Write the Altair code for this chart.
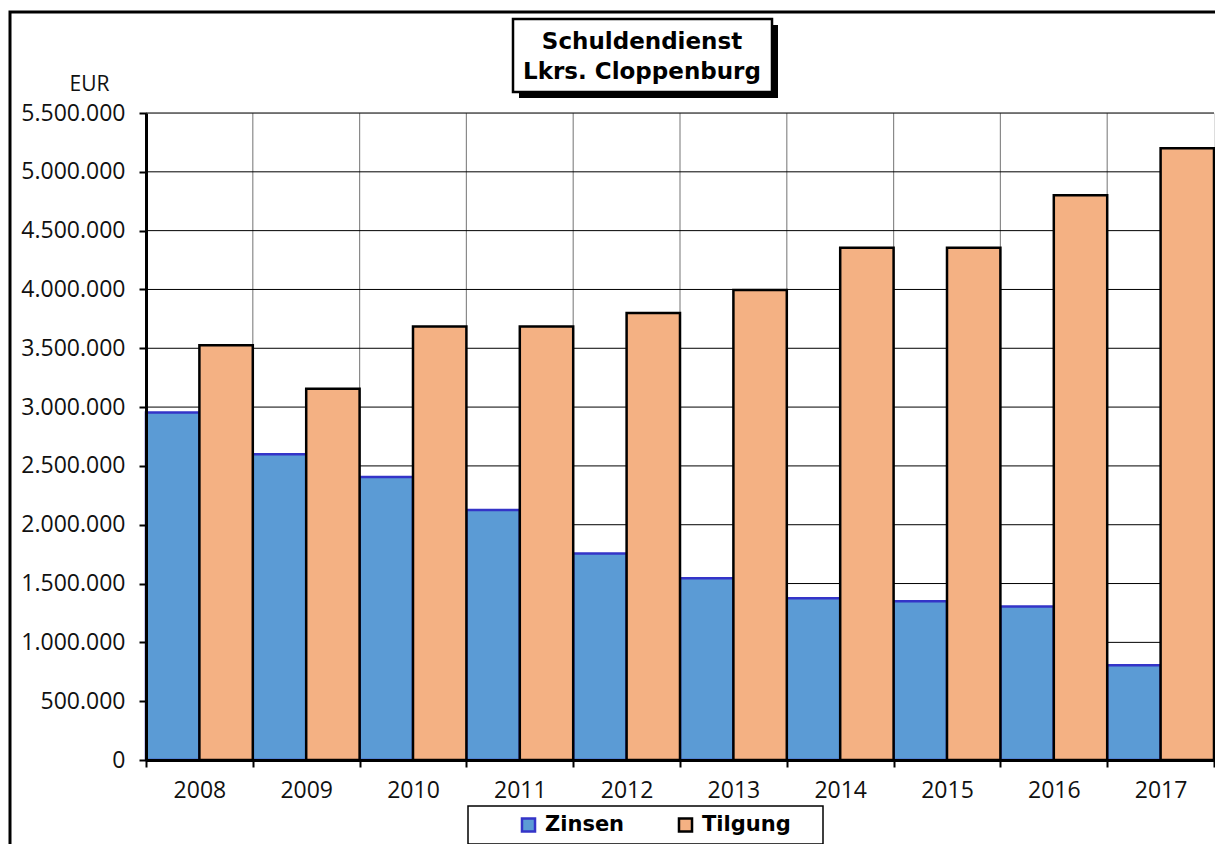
import altair as alt
import pandas as pd

years = ["2008", "2009", "2010", "2011", "2012", "2013", "2014", "2015", "2016", "2017"]
zinsen = [2955000, 2600000, 2405000, 2125000, 1755000, 1545000, 1375000, 1350000, 1305000, 805000]
tilgung = [3525000, 3155000, 3685000, 3685000, 3800000, 3995000, 4355000, 4355000, 4800000, 5200000]
series_names = ["Zinsen", "Tilgung"]
y_ticks = [0, 500000, 1000000, 1500000, 2000000, 2500000, 3000000, 3500000, 4000000, 4500000, 5000000, 5500000]
title_lines = ["Schuldendienst", "Lkrs. Cloppenburg"]

rows = []
for s, vals in zip(series_names, [zinsen, tilgung]):
    for yr, v in zip(years, vals):
        rows.append({"series": s, "year": yr, "value": v})
df = pd.DataFrame(rows)

FONT = "Open Sans"
BOLD_FONT = "DejaVu Sans"

x_scale = alt.Scale(domain=years, paddingInner=0, paddingOuter=0)
y_scale = alt.Scale(domain=[0, 5500000], nice=False)

x_axis = alt.Axis(title=None, labelAngle=0, labelFont=FONT, labelFontSize=23, labelColor="#111",
                  labelPadding=12, tickBand="extent", tickSize=7, tickWidth=2, tickColor="black",
                  domainColor="black", domainWidth=3, grid=False, zindex=1)
y_axis = alt.Axis(title="EUR", titleAngle=0, titleX=-57, titleY=-29, titleAlign="center",
                  titleBaseline="middle", titleFont=FONT, titleFontSize=21, titleFontWeight="normal",
                  titleColor="#111",
                  values=y_ticks, labelExpr="replace(format(datum.value, ',d'), regexp(',', 'g'), '.')",
                  labelFont=FONT, labelFontSize=23, labelColor="#111", labelPadding=14,
                  tickSize=7, tickWidth=2, tickColor="black", domainColor="black", domainWidth=3,
                  grid=False, zindex=1)

vgrid = alt.Chart(pd.DataFrame({"year": years})).mark_rule(color="#8a8a8a", strokeWidth=1.2).encode(
    x=alt.X("year:N", bandPosition=0, scale=x_scale, axis=x_axis)
)
hgrid = alt.Chart(pd.DataFrame({"v": y_ticks})).mark_rule(color="black", strokeWidth=1).encode(
    y=alt.Y("v:Q", scale=y_scale, axis=y_axis)
)

leg = alt.Legend(title=None, orient="none", legendX=372, legendY=701, direction="horizontal",
                 symbolType="square", symbolSize=170, symbolStrokeWidth=2.5,
                 labelFont=BOLD_FONT, labelFontSize=21, labelFontWeight="bold", labelColor="black",
                 labelOffset=6, columnPadding=48, padding=0)

bars = alt.Chart(df).mark_bar(strokeWidth=2.5, strokeOpacity=1, fillOpacity=1).encode(
    x=alt.X("year:N", scale=x_scale, axis=x_axis),
    xOffset=alt.XOffset("series:N", scale=alt.Scale(domain=series_names, paddingInner=0, paddingOuter=0)),
    y=alt.Y("value:Q", scale=y_scale, axis=y_axis, stack=None),
    fill=alt.Fill("series:N", scale=alt.Scale(domain=series_names, range=["#5B9BD5", "#F4B183"]), legend=leg),
    stroke=alt.Stroke("series:N", scale=alt.Scale(domain=series_names, range=["#3434C8", "#000000"]), legend=leg),
)

one = pd.DataFrame({"k": [1]})
frame = alt.Chart(one).mark_rect(filled=False, stroke="black", strokeWidth=3).encode(
    x=alt.value(-136), x2=alt.value(2000), y=alt.value(-101), y2=alt.value(2000)
)
title_shadow = alt.Chart(one).mark_rect(color="black").encode(
    x=alt.value(373), x2=alt.value(632), y=alt.value(-88), y2=alt.value(-15)
)
title_box = alt.Chart(one).mark_rect(fill="white", stroke="black", strokeWidth=2.5).encode(
    x=alt.value(367), x2=alt.value(626), y=alt.value(-94), y2=alt.value(-21)
)
title_text = alt.Chart(one).mark_text(font=BOLD_FONT, fontSize=23, fontWeight="bold", lineHeight=30,
                                      align="center", baseline="middle", color="black").encode(
    x=alt.value(496), y=alt.value(-71), text=alt.value(title_lines)
)
legend_box = alt.Chart(one).mark_rect(fill="white", stroke="black", strokeWidth=1.5).encode(
    x=alt.value(322), x2=alt.value(677), y=alt.value(693), y2=alt.value(731)
)

chart = alt.layer(frame, legend_box, vgrid, hgrid, bars, title_shadow, title_box, title_text).properties(
    width=1068, height=647,
    autosize=alt.AutoSizeParams(type="none"),
    padding={"left": 138, "top": 105, "right": 1, "bottom": 84},
).configure_view(stroke="black", strokeWidth=2.5).configure(background="white")

chart.save("out.html", embed_options={"renderer": "svg", "actions": False})
